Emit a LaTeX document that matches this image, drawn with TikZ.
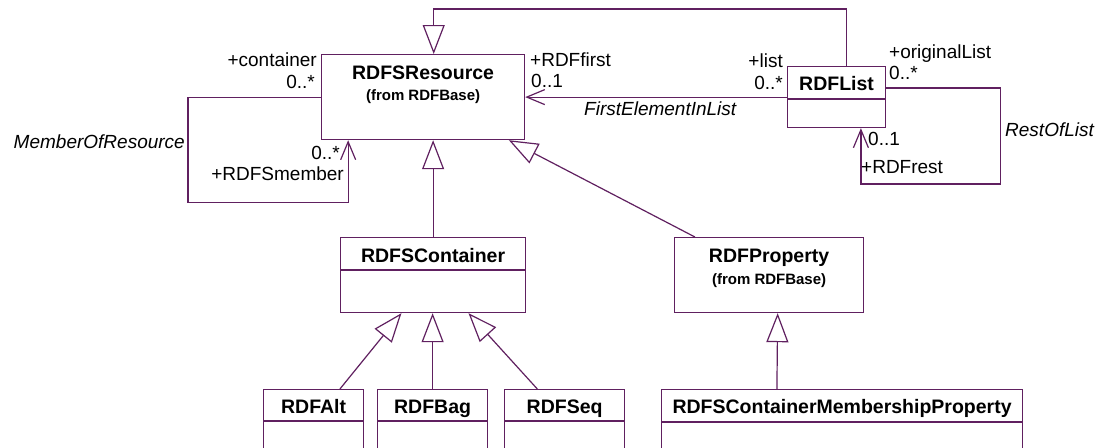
\documentclass[tikz,border=0pt]{standalone}
\usepackage{fontspec}
\setmainfont{Liberation Sans}
\usetikzlibrary{arrows.meta,calc}
\definecolor{umlpurple}{RGB}{96,32,96}

\begin{document}
\begin{tikzpicture}[x=1pt,y=-1pt,
    cls/.style={draw=umlpurple,line width=1.2pt,anchor=north west,inner sep=0pt},
    clsname/.style={font=\fontsize{19.5}{22}\selectfont\bfseries,anchor=base},
    clsfrom/.style={font=\fontsize{15}{18}\selectfont\bfseries,anchor=base},
    role/.style={font=\fontsize{19}{21}\selectfont,inner sep=0pt},
    assoc/.style={font=\fontsize{19}{21}\selectfont\itshape,inner sep=0pt},
    gen/.style={draw=umlpurple,line width=1.2pt,-{Triangle[open,length=29pt,width=22pt]}},
    nav/.style={draw=umlpurple,line width=1.2pt,-{Straight Barb[length=18pt,width=15pt]}}]
    \path[use as bounding box,fill=white] (0,0) rectangle (1099,447);
    \clip (0,0) rectangle (1099,447);

    \node[cls,minimum width=203pt,minimum height=85pt] (res) at (321,54) {};
    \node[cls,minimum width=98pt,minimum height=61pt] (list) at (787,66) {};
    \node[cls,minimum width=185pt,minimum height=75pt] (cont) at (340,237) {};
    \node[cls,minimum width=189pt,minimum height=75pt] (prop) at (674,237) {};
    \node[cls,minimum width=100pt,minimum height=80pt] (alt) at (263,389) {};
    \node[cls,minimum width=110pt,minimum height=80pt] (bag) at (377,389) {};
    \node[cls,minimum width=120pt,minimum height=80pt] (seq) at (504,389) {};
    \node[cls,minimum width=361pt,minimum height=80pt] (memb) at (661,389) {};

    \draw[umlpurple,line width=1.2pt] ($(list.north west)+(0,33)$) -- ($(list.north east)+(0,33)$);
    \draw[umlpurple,line width=1.2pt] ($(cont.north west)+(0,33)$) -- ($(cont.north east)+(0,33)$);
    \draw[umlpurple,line width=1.2pt] ($(alt.north west)+(0,32)$) -- ($(alt.north east)+(0,32)$);
    \draw[umlpurple,line width=1.2pt] ($(bag.north west)+(0,32)$) -- ($(bag.north east)+(0,32)$);
    \draw[umlpurple,line width=1.2pt] ($(seq.north west)+(0,32)$) -- ($(seq.north east)+(0,32)$);
    \draw[umlpurple,line width=1.2pt] ($(memb.north west)+(0,33)$) -- ($(memb.north east)+(0,33)$);

    \node[clsname] (resname) at ($(res.north)+(0,25)$) {RDFSResource};
    \node[clsfrom] (resfrom) at ($(res.north)+(0,46)$) {(from RDFBase)};
    \node[clsname] (listname) at ($(list.north)+(0,24)$) {RDFList};
    \node[clsname] (contname) at ($(cont.north)+(0,25)$) {RDFSContainer};
    \node[clsname] (propname) at ($(prop.north)+(0,25)$) {RDFProperty};
    \node[clsfrom] (propfrom) at ($(prop.north)+(0,47)$) {(from RDFBase)};
    \node[clsname] (altname) at ($(alt.north)+(0,24)$) {RDFAlt};
    \node[clsname] (bagname) at ($(bag.north)+(0,24)$) {RDFBag};
    \node[clsname] (seqname) at ($(seq.north)+(0,24)$) {RDFSeq};
    \node[clsname] (membname) at ($(memb.north)+(0,24)$) {RDFSContainerMembershipProperty};

    \draw[gen] ($(list.north west)!0.6!(list.north east)$) -- ++(0,-57) -| ($(res.north west)!0.552!(res.north east)$);
    \draw[gen] (cont.north) -- (cont.north |- res.south);
    \draw[gen] ($(prop.north west)!0.11!(prop.north east)$) -- ($(res.south west)!0.92!(res.south east)$);
    \draw[gen] ($(alt.north west)!0.76!(alt.north east)$) -- ($(cont.south west)!0.33!(cont.south east)$);
    \draw[gen] (bag.north) -- (bag.north |- cont.south);
    \draw[gen] ($(seq.north west)!0.275!(seq.north east)$) -- ($(cont.south west)!0.69!(cont.south east)$);
    \draw[gen] ($(memb.north west)!0.32!(memb.north east)$) -- ($(prop.south west)!0.545!(prop.south east)$);

    \draw[nav] (list.west) -- (list.west -| res.east);
    \draw[nav] ($(list.north east)+(0,22)$) -- ++(114,0) -- ++(0,96) -| ($(list.south west)!0.745!(list.south east)$);
    \draw[nav] (res.west) -- ++(-133,0) -- ++(0,105) -| ($(res.south west)!0.133!(res.south east)$);

    \node[role,anchor=base east] (ctr) at (317,66) {+container};
    \node[role,anchor=base east] (ctrm) at (315,88) {0..*};
    \node[role,anchor=base east] (mbrm) at (340,159) {0..*};
    \node[role,anchor=base east] (mbr) at (344,180) {+RDFSmember};
    \node[assoc,anchor=base east] (mor) at (185,148) {MemberOfResource};
    \node[role,anchor=base west] (first) at (530,66) {+RDFfirst};
    \node[role,anchor=base west] (firstm) at (531,87) {0..1};
    \node[assoc,anchor=base west] (feil) at (584,115) {FirstElementInList};
    \node[role,anchor=base east] (lst) at (783,67) {+list};
    \node[role,anchor=base east] (lstm) at (783,89) {0..*};
    \node[role,anchor=base west] (orig) at (889,58) {+originalList};
    \node[role,anchor=base west] (origm) at (889,79) {0..*};
    \node[assoc,anchor=base west] (rol) at (1005,136) {RestOfList};
    \node[role,anchor=base west] (restm) at (868,145) {0..1};
    \node[role,anchor=base west] (rest) at (861,173) {+RDFrest};
\end{tikzpicture}
\end{document}
